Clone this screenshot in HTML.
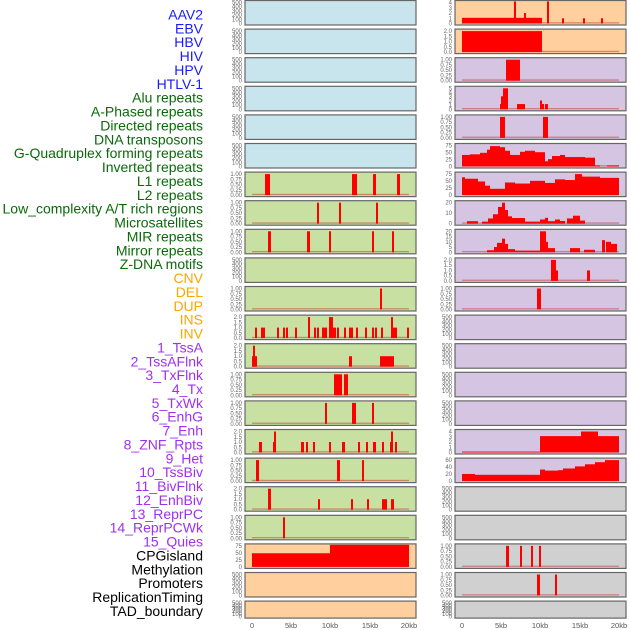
<!DOCTYPE html>
<html><head><meta charset="utf-8"><style>
html,body{margin:0;padding:0;background:#fff;width:630px;height:630px;overflow:hidden}
svg{display:block}
.lb{font-family:"Liberation Sans",sans-serif;font-size:14px;text-anchor:end}
.tk{font-family:"Liberation Sans",sans-serif;font-size:6px;fill:#666;text-anchor:end}
.ax{font-family:"Liberation Sans",sans-serif;font-size:7.5px;fill:#555;text-anchor:middle}
</style></head><body>
<svg id="s" width="630" height="630" xmlns="http://www.w3.org/2000/svg">
<g id="labels">
<text class="lb" x="203" y="20" fill="#1a1aff">AAV2</text>
<text class="lb" x="203" y="34" fill="#1a1aff">EBV</text>
<text class="lb" x="203" y="48" fill="#1a1aff">HBV</text>
<text class="lb" x="203" y="62" fill="#1a1aff">HIV</text>
<text class="lb" x="203" y="76" fill="#1a1aff">HPV</text>
<text class="lb" x="203" y="90" fill="#1a1aff">HTLV-1</text>
<text class="lb" x="203" y="104" fill="#0a6a0a">Alu repeats</text>
<text class="lb" x="203" y="118" fill="#0a6a0a">A-Phased repeats</text>
<text class="lb" x="203" y="132" fill="#0a6a0a">Directed repeats</text>
<text class="lb" x="203" y="146" fill="#0a6a0a">DNA transposons</text>
<text class="lb" x="203" y="160" fill="#0a6a0a">G-Quadruplex forming repeats</text>
<text class="lb" x="203" y="174" fill="#0a6a0a">Inverted repeats</text>
<text class="lb" x="203" y="188" fill="#0a6a0a">L1 repeats</text>
<text class="lb" x="203" y="202" fill="#0a6a0a">L2 repeats</text>
<text class="lb" x="203" y="216" fill="#0a6a0a">Low_complexity A/T rich regions</text>
<text class="lb" x="203" y="230" fill="#0a6a0a">Microsatellites</text>
<text class="lb" x="203" y="244" fill="#0a6a0a">MIR repeats</text>
<text class="lb" x="203" y="258" fill="#0a6a0a">Mirror repeats</text>
<text class="lb" x="203" y="272" fill="#0a6a0a">Z-DNA motifs</text>
<text class="lb" x="203" y="286" fill="#ffa500">CNV</text>
<text class="lb" x="203" y="300" fill="#ffa500">DEL</text>
<text class="lb" x="203" y="314" fill="#ffa500">DUP</text>
<text class="lb" x="203" y="328" fill="#ffa500">INS</text>
<text class="lb" x="203" y="342" fill="#ffa500">INV</text>
<text class="lb" x="203" y="356" fill="#a030f0">1_TssA</text>
<text class="lb" x="203" y="370" fill="#a030f0">2_TssAFlnk</text>
<text class="lb" x="203" y="384" fill="#a030f0">3_TxFlnk</text>
<text class="lb" x="203" y="398" fill="#a030f0">4_Tx</text>
<text class="lb" x="203" y="412" fill="#a030f0">5_TxWk</text>
<text class="lb" x="203" y="426" fill="#a030f0">6_EnhG</text>
<text class="lb" x="203" y="440" fill="#a030f0">7_Enh</text>
<text class="lb" x="203" y="454" fill="#a030f0">8_ZNF_Rpts</text>
<text class="lb" x="203" y="468" fill="#a030f0">9_Het</text>
<text class="lb" x="203" y="482" fill="#a030f0">10_TssBiv</text>
<text class="lb" x="203" y="496" fill="#a030f0">11_BivFlnk</text>
<text class="lb" x="203" y="510" fill="#a030f0">12_EnhBiv</text>
<text class="lb" x="203" y="524" fill="#a030f0">13_ReprPC</text>
<text class="lb" x="203" y="538" fill="#a030f0">14_ReprPCWk</text>
<text class="lb" x="203" y="552" fill="#a030f0">15_Quies</text>
<text class="lb" x="203" y="566" fill="#000">CPGisland</text>
<text class="lb" x="203" y="580" fill="#000">Methylation</text>
<text class="lb" x="203" y="594" fill="#000">Promoters</text>
<text class="lb" x="203" y="608" fill="#000">ReplicationTiming</text>
<text class="lb" x="203" y="622" fill="#000">TAD_boundary</text>
</g>
<text class="ax" x="252" y="628">0</text><text class="ax" x="291" y="628">5kb</text><text class="ax" x="330" y="628">10kb</text><text class="ax" x="370" y="628">15kb</text><text class="ax" x="409" y="628">20kb</text>
<text class="ax" x="462" y="628">0</text><text class="ax" x="501" y="628">5kb</text><text class="ax" x="540" y="628">10kb</text><text class="ax" x="580" y="628">15kb</text><text class="ax" x="619" y="628">20kb</text>
</svg>
<script>
var NS="http://www.w3.org/2000/svg",S=document.getElementById("s");
var lbs=document.querySelectorAll("#labels text");
for(var i=0;i<lbs.length;i++)lbs[i].setAttribute("y",(19.5+i*13.87).toFixed(2));
function el(t,a,txt){var e=document.createElementNS(NS,t);for(var k in a)e.setAttribute(k,a[k]);if(txt!=null)e.textContent=txt;S.appendChild(e);return e;}
var B="#c8e4ec",G="#c8e0a2",O="#ffcf9e",P="#d5c5e2",Y="#d0d0d0";
var T5=["500","400","300","200","100","0"],T1=["1.00","0.75","0.50","0.25","0.00"],T2=["2.0","1.5","1.0","0.5","0.0"];
var ins=[[255,257,.5],[261,265,.5],[277,279,.5],[283,285,.5],[286,288,.5],[295,297,.5],[308,310,1],[314,316,.5],[317,319,.5],[322,324,.5],[324,327,.5],[329,333,1],[333,336,.5],[337,339,.5],[344,346,.5],[349,353,.5],[356,358,.5],[365,367,.5],[372,374,.5],[375,377,.5],[381,383,.5],[391,393,1],[393,397,.5],[407,409,.5]];
var L=[
[B,T5,null],[B,T5,null],[B,T5,null],[B,T5,null],[B,T5,null],[B,T5,null],
[G,T1,[[265,270,1],[352,357,1],[373,376,1],[397,400,1]]],
[G,T1,[[317,319,1],[339,341,1],[376,378,1]]],
[G,T1,[[268,271,1],[307,310,1],[329,331,1],[372,374,1],[392,394,1]]],
[G,T5,null],
[G,T1,[[380,382,1]]],
[G,T2,ins],
[G,T2,[[253,255,1],[252,257,.5],[349,352,.5],[380,394,.5]]],
[G,T1,[[334,342,1],[344,348,1]]],
[G,T1,[[325,327,1],[352,356,1],[372,374,1]]],
[G,T2,[[259,262,.5],[274,276,1],[273,276,.5],[301,304,.5],[306,308,.5],[313,315,.5],[329,331,.5],[342,345,.5],[358,360,.5],[366,368,.5],[373,376,.5],[382,384,.5],[391,393,1],[390,393,.5],[395,397,.5]]],
[G,T1,[[256,259,1],[337,340,1],[362,364,1]]],
[G,T2,[[268,271,1],[318,320,.5],[351,353,.5],[367,369,.5],[382,387,.5],[391,394,.5]]],
[G,T1,[[283,285,1]]],
[O,["75","50","25","0"],[[252,330,.65],[330,409,1.1]]],
[O,T5,null],[O,T5,null]
];
var R=[
[O,["4","3","2","1","0"],[[462,542,.27],[514,516,1.05],[524,526,.5],[547,549,1.05],[562,564,.25],[583,585,.25],[601,603,.25]]],
[O,T2,[[462,542,1]]],
[P,T1,[[506,520,1]]],
[P,["5","4","3","2","1","0"],[[500,502,.25],[501,503,.62],[503,508,1.0],[517,525,.25],[540,542,.42],[541,544,.25],[545,548,.25]]],
[P,T1,[[500,505,1],[543,548,1]]],
[P,["75","50","25","0"],[[462,470,.55],[470,480,.58],[480,487,.65],[487,490,.8],[490,500,.97],[500,505,.92],[505,510,.75],[510,520,.55],[520,525,.7],[525,535,.75],[535,545,.68],[545,548,.25],[548,552,.35],[552,560,.5],[560,565,.55],[565,585,.45],[585,595,.42],[595,600,.05],[607,619,.05]]],
[P,["75","50","25","0"],[[462,465,.85],[465,478,.78],[478,485,.65],[485,490,.45],[490,505,.3],[505,515,.6],[515,530,.55],[530,545,.68],[545,555,.58],[555,565,.75],[565,575,.72],[575,582,1],[582,600,.88],[600,619,.82]]],
[P,["20","10","0"],[[467,478,.12],[482,488,.1],[488,493,.25],[493,498,.45],[498,502,.8],[502,505,1.0],[505,508,.65],[508,512,.35],[512,525,.27],[525,540,.1],[540,545,.2],[545,548,.28],[548,555,.12],[555,560,.2],[560,565,.13],[567,573,.25],[573,580,.38],[580,585,.15]]],
[P,["20","15","10","5","0"],[[487,494,.1],[494,497,.25],[497,502,.45],[502,505,.65],[505,508,.4],[508,515,.15],[515,540,.08],[540,546,1.0],[546,548,.5],[548,555,.2],[570,580,.2],[584,595,.12],[602,605,.58],[606,611,.5],[611,617,.4]]],
[P,T2,[[551,556,1],[556,558,.5],[587,590,.5]]],
[P,T1,[[537,541,1]]],
[P,T5,null],[P,T5,null],[P,T5,null],[P,T5,null],
[P,["4","3","2","1","0"],[[462,540,.03],[540,581,.78],[581,598,1.0],[598,619,.78]]],
[P,["60","40","20","0"],[[462,475,.34],[475,540,.3],[540,545,.55],[545,558,.5],[558,563,.52],[563,575,.6],[575,585,.7],[585,595,.8],[595,605,.9],[605,619,1]]],
[Y,T5,null],[Y,T5,null],
[Y,T1,[[506,509,1],[520,522,1],[531,533,1],[539,541,1]]],
[Y,T1,[[537,540,1],[555,557,1]]],
[Y,T5,null]
];
function draw(list,x0,x1,d0,d1){
 for(var i=0;i<list.length;i++){
  var p=list[i],top=0.5+i*28.6,h=(i==21?17:24.5),bot=top+h;
  el("rect",{x:x0,y:top,width:x1-x0,height:h,fill:p[0]});
  var pt=top+2,pb=bot-1.5,ph=pb-pt;
  if(p[2]){
   el("rect",{x:d0,y:pb-1.3,width:d1-d0,height:1.3,fill:"rgba(200,30,30,0.45)"});
   p[2].forEach(function(b){var hh=Math.min(b[2],1.05)*ph;el("rect",{x:b[0],y:Math.max(top+0.5,pb-hh),width:b[1]-b[0],height:Math.min(hh,pb-top-0.5),fill:"#ff0000"});});
  }
  el("rect",{x:x0,y:top,width:x1-x0,height:h,fill:"none",stroke:"#666","stroke-width":1.2});
  var t=p[1],n=t.length;
  for(var j=0;j<n;j++){var y=pt+(n>1?j*ph/(n-1):0);el("text",{"class":"tk",x:x0-3,y:y+2},t[j]);}
 }
}
draw(L,245,416,252,409);
draw(R,455,626,462,619);
</script>
</body></html>
